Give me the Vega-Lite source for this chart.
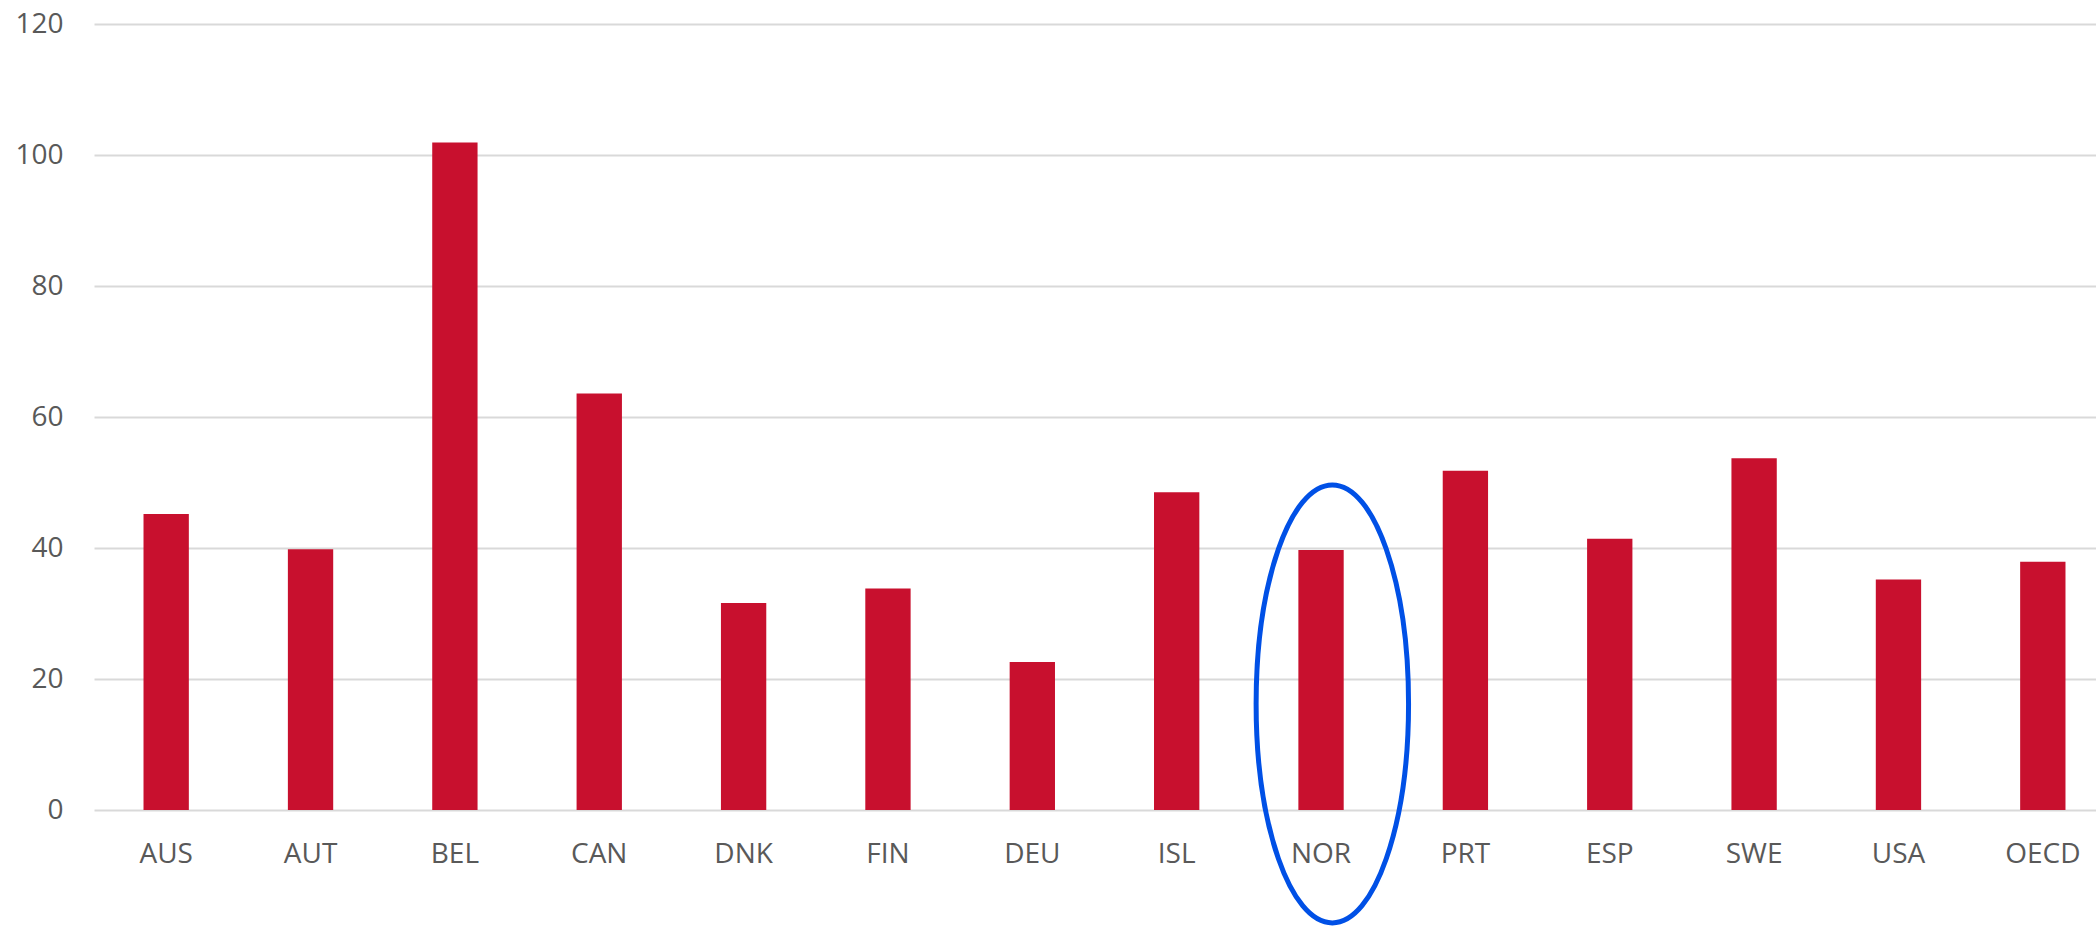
{
  "$schema": "https://vega.github.io/schema/vega-lite/v6.json",
  "width": 2002,
  "height": 786,
  "autosize": {"type": "none"},
  "padding": {"left": 94, "top": 24, "right": 0, "bottom": 116},
  "background": "white",
  "config": {"view": {"stroke": null}, "font": "Open Sans"},
  "data": {
    "values": [
      {"country": "AUS", "value": 45.2},
      {"country": "AUT", "value": 39.8},
      {"country": "BEL", "value": 101.9},
      {"country": "CAN", "value": 63.6},
      {"country": "DNK", "value": 31.6},
      {"country": "FIN", "value": 33.8},
      {"country": "DEU", "value": 22.6},
      {"country": "ISL", "value": 48.5},
      {"country": "NOR", "value": 39.7},
      {"country": "PRT", "value": 51.8},
      {"country": "ESP", "value": 41.4},
      {"country": "SWE", "value": 53.7},
      {"country": "USA", "value": 35.2},
      {"country": "OECD", "value": 37.9}
    ]
  },
  "layer": [
    {
      "mark": {"type": "bar", "color": "#C8102E"},
      "encoding": {
        "x": {
          "field": "country",
          "type": "nominal",
          "sort": null,
          "scale": {"range": [0, 2021], "paddingInner": 0.686, "paddingOuter": 0.343},
          "axis": {
            "title": null,
            "domain": false,
            "ticks": false,
            "tickSize": 0,
            "labelPadding": 30,
            "labelAngle": 0,
            "labelFontSize": 28,
            "labelColor": "#595959",
            "labelFont": "Open Sans"
          }
        },
        "y": {
          "field": "value",
          "type": "quantitative",
          "scale": {"domain": [0, 120], "nice": false},
          "axis": {
            "title": null,
            "domain": false,
            "ticks": false,
            "tickSize": 0,
            "values": [0, 20, 40, 60, 80, 100, 120],
            "labelPadding": 31,
            "labelFontSize": 28,
            "labelColor": "#595959",
            "labelFont": "Open Sans",
            "gridColor": "#d9d9d9",
            "gridWidth": 2
          }
        }
      }
    },
    {
      "transform": [{"filter": "datum.country === 'NOR'"}],
      "mark": {
        "type": "point",
        "shape": "M0,-1C0.1923,-1,0.348,-0.5523,0.348,0C0.348,0.5523,0.1923,1,0,1C-0.1923,1,-0.348,0.5523,-0.348,0C-0.348,-0.5523,-0.1923,-1,0,-1Z",
        "size": 191844,
        "filled": false,
        "stroke": "#0050E6",
        "strokeWidth": 5,
        "opacity": 1,
        "xOffset": 11.3,
        "clip": false
      },
      "encoding": {
        "x": {"field": "country", "type": "nominal", "sort": null},
        "y": {"datum": 16.2}
      }
    }
  ]
}
